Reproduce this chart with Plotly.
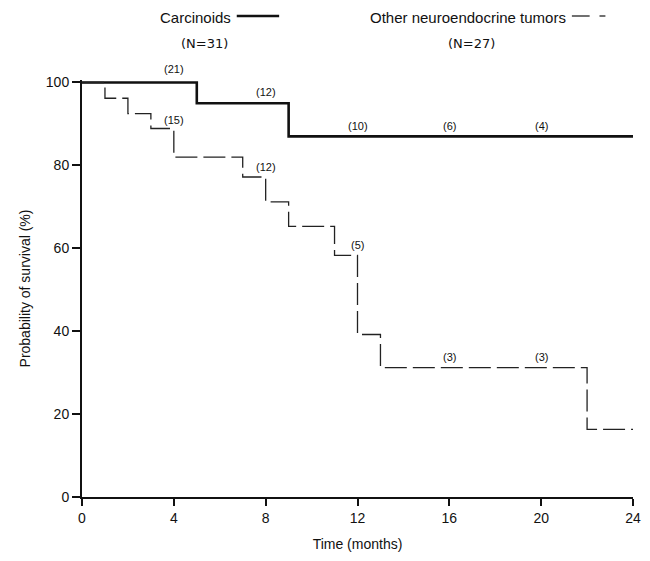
import plotly.graph_objects as go

# ---- data ----
carc_time = [0, 5, 9, 24]
carc_surv = [100, 95, 87, 87]

other_time = [0, 1, 2, 3, 4, 7, 8, 9, 11, 12, 13, 22, 24]
other_surv = [100, 96.2, 92.5, 88.9, 82.0, 77.2, 71.2, 65.3, 58.3, 39.2, 31.2, 16.3, 16.3]

risk_time = [4, 8, 12, 16, 20]
carc_risk = [21, 12, 10, 6, 4]
carc_risk_y = [103.3, 97.7, 89.5, 89.5, 89.5]
other_risk = [15, 12, 5, 3, 3]
other_risk_y = [91.0, 79.6, 60.8, 33.8, 33.8]

x_ticks = [0, 4, 8, 12, 16, 20, 24]
y_ticks = [0, 20, 40, 60, 80, 100]

W, H = 650, 561
ML, MR, MT, MB = 82, 9, 80, 64
YMAX = 100.6
px_per_unit = (H - MT - MB) / YMAX
FONT = "Liberation Sans, Arial, Helvetica, sans-serif"
NFONT = "DejaVu Sans, sans-serif"
INK = "#111111"

fig = go.Figure()
fig.add_trace(go.Scatter(x=carc_time, y=carc_surv, mode="lines", line_shape="hv",
                         line=dict(color="#111111", width=2.6), showlegend=False,
                         name="Carcinoids"))
fig.add_trace(go.Scatter(x=other_time, y=other_surv, mode="lines", line_shape="hv",
                         line=dict(color="#222222", width=1.3, dash="22px,6px"),
                         showlegend=False, name="Other neuroendocrine tumors"))

anns = []
for t, n, ly in list(zip(risk_time, carc_risk, carc_risk_y)) + list(zip(risk_time, other_risk, other_risk_y)):
    yv = min(ly, 100)
    anns.append(dict(x=t, y=yv, xref="x", yref="y", text=f"({n})", showarrow=False,
                     yshift=(ly - yv) * px_per_unit,
                     font=dict(family=FONT, size=11, color=INK)))

def px2paper_x(px):
    return (px - ML) / (W - ML - MR)

def px2paper_y(py):
    return 1 - (py - MT) / (H - MT - MB)

# legend (custom)
anns.append(dict(x=px2paper_x(235), y=px2paper_y(17), xref="paper", yref="paper",
                 text="Carcinoids", showarrow=False, xanchor="right", yanchor="middle",
                 font=dict(family=FONT, size=15, color=INK)))
anns.append(dict(x=px2paper_x(206), y=px2paper_y(43), xref="paper", yref="paper",
                 text="(N=31)", showarrow=False, xanchor="center", yanchor="middle",
                 font=dict(family=NFONT, size=13, color=INK)))
anns.append(dict(x=px2paper_x(575), y=px2paper_y(17), xref="paper", yref="paper",
                 text="Other neuroendocrine tumors", showarrow=False, xanchor="right",
                 yanchor="middle", font=dict(family=FONT, size=15, color=INK)))
anns.append(dict(x=px2paper_x(477), y=px2paper_y(43), xref="paper", yref="paper",
                 text="(N=27)", showarrow=False, xanchor="center", yanchor="middle",
                 font=dict(family=NFONT, size=13, color=INK)))

shapes = [
    dict(type="line", xref="paper", yref="paper", x0=px2paper_x(239), x1=px2paper_x(282),
         y0=px2paper_y(16), y1=px2paper_y(16), line=dict(color="#111111", width=2.4)),
    dict(type="line", xref="paper", yref="paper", x0=px2paper_x(579), x1=px2paper_x(597),
         y0=px2paper_y(16), y1=px2paper_y(16), line=dict(color="#222222", width=1.3)),
    dict(type="line", xref="paper", yref="paper", x0=px2paper_x(607), x1=px2paper_x(613),
         y0=px2paper_y(16), y1=px2paper_y(16), line=dict(color="#222222", width=1.3)),
]

fig.update_layout(
    width=W, height=H,
    margin=dict(l=ML, r=MR, t=MT, b=MB),
    paper_bgcolor="white", plot_bgcolor="white",
    font=dict(family=FONT, color=INK),
    annotations=anns, shapes=shapes,
    xaxis=dict(range=[0, 24], tickvals=x_ticks, ticktext=[str(v) for v in x_ticks],
               showline=True, linecolor="#111111", linewidth=2, ticks="outside",
               ticklen=7, tickwidth=1.5, tickcolor="#111111", showgrid=False,
               zeroline=False, tickfont=dict(family=FONT, size=14, color=INK),
               title=dict(text="Time (months)", font=dict(family=FONT, size=14, color=INK),
                          standoff=14)),
    yaxis=dict(range=[0, YMAX], tickvals=y_ticks, ticktext=[str(v) for v in y_ticks],
               showline=True, linecolor="#111111", linewidth=2, ticks="outside",
               ticklen=8, tickwidth=1.5, tickcolor="#111111", showgrid=False,
               zeroline=False, tickfont=dict(family=FONT, size=14, color=INK),
               title=dict(text="Probability of survival (%)",
                          font=dict(family=FONT, size=14, color=INK), standoff=12)),
)

fig.write_html("out.html")
